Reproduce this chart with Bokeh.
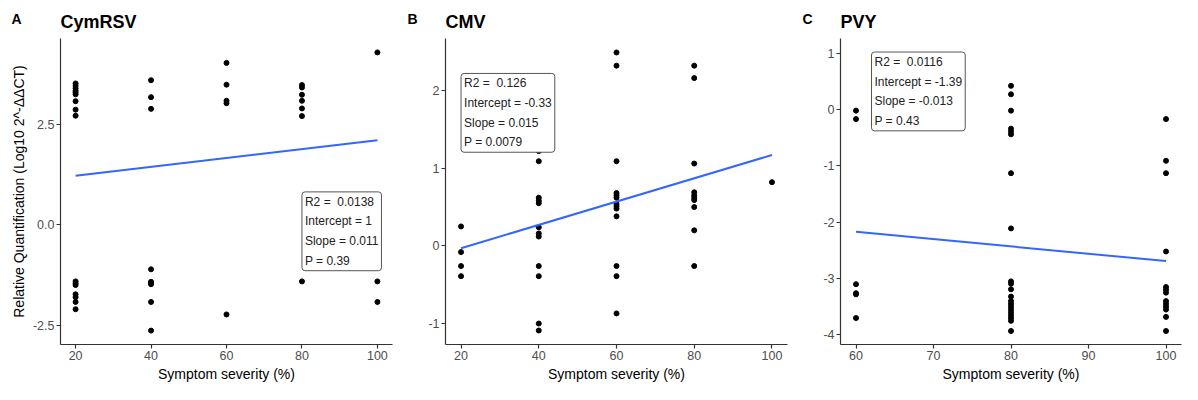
from bokeh.plotting import figure
from bokeh.layouts import row
from bokeh.models import Label, FixedTicker, NumeralTickFormatter, Range1d, Title
from bokeh.embed import file_html
from bokeh.resources import INLINE

# ---------------- data ----------------
# Panel A: CymRSV
a_x = [20]*16 + [40]*9 + [60]*5 + [80]*7 + [100]*3
a_y = [3.51, 3.45, 3.39, 3.33, 3.29, 3.24, 3.07, 2.86, 2.71,
       -1.40, -1.45, -1.49, -1.72, -1.79, -1.91, -2.09,
       3.59, 3.17, 2.88, -1.10, -1.41, -1.44, -1.47, -1.91, -2.62,
       4.02, 3.48, 3.08, 3.02, -2.22,
       3.47, 3.41, 3.23, 3.08, 2.89, 2.70, -1.40,
       4.28, -1.40, -1.91]
a_stats = ["R2 = \u00a00.0138", "Intercept = 1", "Slope = 0.011", "P = 0.39"]
a_fit = (1.0, 0.011)

# Panel B: CMV
b_x = [20]*4 + [40]*12 + [60]*13 + [80]*10 + [100]*1
b_y = [0.25, -0.08, -0.26, -0.39,
       1.22, 1.09, 0.62, 0.58, 0.55, 0.24, 0.16, 0.12, -0.26, -0.39, -1.00, -1.09,
       2.49, 2.32, 1.09, 0.68, 0.65, 0.62, 0.54, 0.51, 0.48, 0.38, -0.26, -0.39, -0.87,
       2.32, 2.16, 1.06, 0.69, 0.65, 0.62, 0.59, 0.50, 0.20, -0.26,
       0.82]
b_stats = ["R2 = \u00a00.126", "Intercept = -0.33", "Slope = 0.015", "P = 0.0079"]
b_fit = (-0.33, 0.015)

# Panel C: PVY
c_x = [60]*6 + [80]*21 + [100]*13
c_y = [-0.02, -0.17, -3.10, -3.26, -3.28, -3.70,
       0.42, 0.27, -0.02, -0.34, -0.39, -0.44, -1.13, -2.11,
       -3.05, -3.09, -3.19, -3.32, -3.40, -3.45, -3.50, -3.55, -3.60, -3.65, -3.70, -3.75, -3.93,
       -0.17, -0.91, -1.13, -2.52, -3.15, -3.20, -3.25, -3.40, -3.45, -3.50, -3.55, -3.68, -3.93]
c_stats = ["R2 = \u00a00.0116", "Intercept = -1.39", "Slope = -0.013", "P = 0.43"]
c_fit = (-1.39, -0.013)

FONT = "Liberation Sans"
H = 384
BT, BB = 38, 36


def panel(letter, title, xs, ys, stats, fit, xr, yr, xticks, yticks, yfmt,
          box_xy, width, border_left, border_right, letter_px, ylabel=None):
    p = figure(width=width, height=H, output_backend="svg", toolbar_location=None,
               x_range=Range1d(*xr), y_range=Range1d(*yr),
               min_border_left=border_left, min_border_right=border_right,
               min_border_top=BT, min_border_bottom=BB)
    p.outline_line_color = None
    p.xgrid.visible = False
    p.ygrid.visible = False
    p.background_fill_color = "white"

    t = Title(text=title, align="left", text_font=FONT, text_font_size="18px",
              text_font_style="bold", text_color="black", standoff=13, offset=0)
    p.add_layout(t, "above")
    # panel letter, pulled down onto the same line as the panel title
    tl = Title(text=letter, align="left", text_font=FONT, text_font_size="14px",
               text_font_style="bold", text_color="black", standoff=-47,
               offset=letter_px - border_left, vertical_align="bottom")
    p.add_layout(tl, "above")

    for ax in (p.xaxis[0], p.yaxis[0]):
        ax.axis_line_color = "#333333"
        ax.axis_line_width = 1.2
        ax.major_tick_line_color = "#333333"
        ax.major_tick_line_width = 1.2
        ax.major_tick_out = 4
        ax.major_tick_in = 0
        ax.minor_tick_line_color = None
        ax.major_label_text_font = FONT
        ax.major_label_text_font_size = "12.5px"
        ax.major_label_text_color = "#4D4D4D"
        ax.major_label_standoff = 2
        ax.axis_label_text_font = FONT
        ax.axis_label_text_font_size = "14px"
        ax.axis_label_text_font_style = "normal"
        ax.axis_label_text_color = "black"
        ax.axis_label_standoff = 3

    p.xaxis.ticker = FixedTicker(ticks=xticks)
    p.yaxis.ticker = FixedTicker(ticks=yticks)
    p.xaxis.formatter = NumeralTickFormatter(format="0")
    p.yaxis.formatter = NumeralTickFormatter(format=yfmt)
    p.xaxis.axis_label = "Symptom severity (%)"
    if ylabel:
        p.yaxis.axis_label = ylabel

    p.scatter(xs, ys, size=5, color="black")

    x0, x1 = min(xs), max(xs)
    p.line([x0, x1], [fit[0] + fit[1]*x0, fit[0] + fit[1]*x1],
           line_color="#3366FF", line_width=2)

    lab = Label(x=box_xy[0], y=box_xy[1], text="\n".join(stats),
                text_font=FONT, text_font_size="12px", text_color="#222222",
                text_align="left", text_baseline="top", text_line_height=1.4,
                background_fill_color="white", border_line_color="#555555",
                border_line_width=1, border_radius=3, padding=3)
    p.add_layout(lab)
    return p


pa = panel("A", "CymRSV", a_x, a_y, a_stats, a_fit, (16, 104), (-2.965, 4.625),
           [20, 40, 60, 80, 100], [-2.5, 0, 2.5], "0.0", (80, 0.82), 396, 60, 4, 11,
           ylabel="Relative Quantification (Log10 2^-\u0394\u0394CT)")
pb = panel("B", "CMV", b_x, b_y, b_stats, b_fit, (16, 104), (-1.27, 2.67),
           [20, 40, 60, 80, 100], [-1, 0, 1, 2], "0", (20, 2.22), 393, 49, 2, 11)
pc = panel("C", "PVY", c_x, c_y, c_stats, c_fit, (58, 102), (-4.17, 1.26),
           [60, 70, 80, 90, 100], [-4, -3, -2, -1, 0, 1], "0", (62, 1.02), 393, 51, 1, 13)

layout = row(pa, pb, pc)
open("out.html", "w").write(file_html(layout, INLINE))
